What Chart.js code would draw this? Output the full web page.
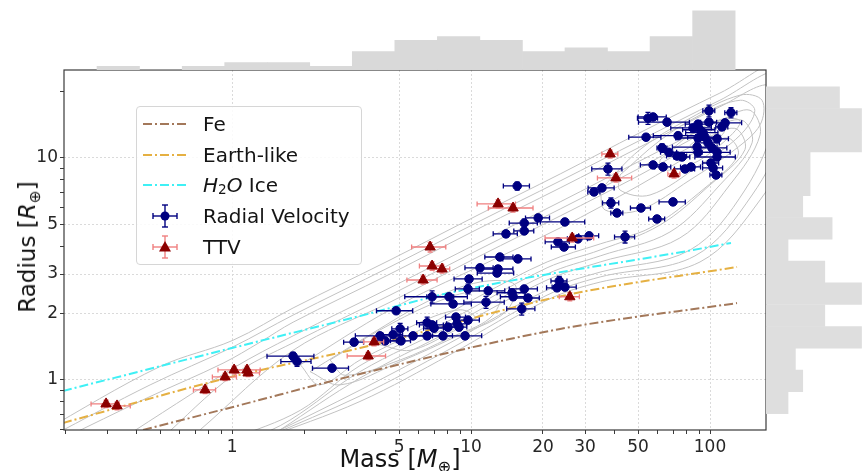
<!DOCTYPE html>
<html>
<head>
<meta charset="utf-8">
<script src="https://cdn.jsdelivr.net/npm/chart.js@4.4.1/dist/chart.umd.min.js"></script>
<style>
  body { margin: 0; background: #fff; font-family: "DejaVu Sans", sans-serif; }
  #wrap { position: relative; width: 863px; height: 471px; overflow: hidden; }
  canvas { position: absolute; }
  #main { left: 0; top: 0; }
  #topHist { left: 64px; top: 0; }
  #rightHist { left: 766px; top: 70px; }
  .legend { position: absolute; left: 136px; top: 106px; width: 226px; height: 159px;
            border: 1px solid #d6d6d6; border-radius: 4px; background: rgba(255,255,255,0.85);
            box-sizing: border-box; }
  .row { position: absolute; left: 0; height: 30px; display: flex; align-items: center;
         font-size: 20px; color: #141414; white-space: nowrap; }
  .row svg { margin-left: 6px; margin-right: 14px; }
  .title { position: absolute; white-space: nowrap; font-size: 23px; color: #141414; }
  sub { font-size: 0.68em; position: relative; top: 0.3em; line-height: 0; vertical-align: baseline; }
</style>
</head>
<body>
<div id="wrap">
  <canvas id="main" width="863" height="471"></canvas>
  <canvas id="topHist" width="702" height="70"></canvas>
  <canvas id="rightHist" width="97" height="360"></canvas>

  <div class="legend">
    <div class="row" style="top:2px">
      <svg width="46" height="30"><line x1="0" y1="15" x2="46" y2="15" stroke="#a3785a" stroke-width="2" stroke-dasharray="9 3 2 3"/></svg>Fe
    </div>
    <div class="row" style="top:33px">
      <svg width="46" height="30"><line x1="0" y1="15" x2="46" y2="15" stroke="#e5b042" stroke-width="2" stroke-dasharray="9 3 2 3"/></svg>Earth-like
    </div>
    <div class="row" style="top:63px">
      <svg width="46" height="30"><line x1="0" y1="15" x2="46" y2="15" stroke="#3ff0f5" stroke-width="2" stroke-dasharray="9 3 2 3"/></svg><i>H</i><sub>2</sub><i>O</i>&nbsp;Ice
    </div>
    <div class="row" style="top:94px">
      <svg width="46" height="30">
        <g stroke="#000080" stroke-width="1.4">
          <line x1="10" y1="15" x2="34" y2="15"/><line x1="22" y1="4" x2="22" y2="26"/>
          <line x1="10" y1="12" x2="10" y2="18"/><line x1="34" y1="12" x2="34" y2="18"/>
          <line x1="19" y1="4" x2="25" y2="4"/><line x1="19" y1="26" x2="25" y2="26"/>
        </g>
        <circle cx="22" cy="15" r="4.5" fill="#000080"/>
      </svg>Radial Velocity
    </div>
    <div class="row" style="top:125px">
      <svg width="46" height="30">
        <g stroke="#f08080" stroke-width="1.4">
          <line x1="10" y1="15" x2="34" y2="15"/><line x1="22" y1="4" x2="22" y2="26"/>
          <line x1="10" y1="12" x2="10" y2="18"/><line x1="34" y1="12" x2="34" y2="18"/>
          <line x1="19" y1="4" x2="25" y2="4"/><line x1="19" y1="26" x2="25" y2="26"/>
        </g>
        <polygon points="22,9 28,19.5 16,19.5" fill="#8b0000"/>
      </svg>TTV
    </div>
  </div>

  <div class="title" style="left:400px; top:459px; font-size:24px; transform: translate(-50%,-50%);">Mass [<i>M</i><sub>⊕</sub>]</div>
  <div class="title" style="left:27px; top:247px; transform: translate(-50%,-50%) rotate(-90deg);">Radius [<i>R</i><sub>⊕</sub>]</div>
</div>

<script>
// ---- axes ----
const xMin = 0.198, xMax = 171.5;
const yMin = 0.595, yMax = 24.9;
const xTickValues = [0.2, 0.3, 0.4, 0.5, 0.6, 0.7, 0.8, 0.9, 1, 2, 3, 4, 5, 6, 7, 8, 9, 10, 20, 30, 40, 50, 60, 70, 80, 90, 100];
const xTickLabels = [1, 5, 10, 20, 30, 50, 100];
const yTickValues = [0.6, 0.7, 0.8, 0.9, 1, 2, 3, 4, 5, 6, 7, 8, 9, 10, 20];
const yTickLabels = [1, 2, 3, 5, 10];

// ---- radial velocity planets ----
const rvMass = [1.80, 1.87, 2.62, 3.24, 4.16, 4.37, 4.72, 5.05, 5.09, 4.86, 5.72, 6.55, 6.55, 6.87, 7.00, 7.63, 8.01, 8.74, 8.91, 8.65,
  9.44, 9.71, 6.87, 8.09, 8.41, 9.71, 9.81, 10.9, 12.85, 12.97, 13.2, 15.7, 11.8, 11.55, 14.85, 15.0, 16.7, 17.3, 16.3, 23.4,
  22.9, 24.7, 14.0, 16.7, 16.7, 19.1, 24.7, 31.2, 28.0, 23.1, 24.5, 44.1, 15.6, 37.4, 35.3, 32.7, 38.5, 40.8, 51.4, 60.0,
  70.0, 55.0, 57.8, 66.1, 54.0, 73.5, 63.0, 67.3, 72.8, 76.4, 57.8, 63.6, 78.6, 83.3, 99.0, 122.4, 99.0, 89.1, 115.6, 112.2,
  84.9, 90.8, 93.5, 95.3, 89.1, 107, 98.1, 101.9, 88.3, 89.1, 107, 107, 100.9, 103, 106];
const rvRadius = [1.28, 1.21, 1.13, 1.48, 1.58, 1.50, 1.60, 1.70, 1.50, 2.05, 1.58, 1.58, 1.81, 1.77, 1.71, 1.58, 1.73, 1.79, 1.73, 1.92,
  1.58, 1.86, 2.37, 2.37, 2.20, 2.57, 2.85, 3.20, 3.03, 3.16, 3.58, 3.51, 2.52, 2.24, 2.47, 2.37, 2.57, 2.34, 2.09, 2.79,
  2.60, 2.62, 4.55, 4.69, 5.09, 5.37, 5.15, 4.46, 4.32, 4.19, 3.97, 4.41, 7.48, 8.92, 7.33, 7.03, 6.27, 5.65, 5.95, 5.31,
  6.34, 15.1, 15.3, 14.5, 12.4, 12.6, 11.1, 10.6, 10.2, 10.1, 9.30, 9.11, 8.92, 9.11, 16.3, 16.0, 14.5, 14.2, 14.4, 13.8,
  13.65, 13.4, 13.0, 12.4, 12.3, 12.2, 11.7, 11.1, 11.2, 10.6, 10.6, 10.1, 9.49, 9.02, 8.38];
const rvMassErr = [0.40, 0.27, 0.45, 0.31, 0.88, 0.50, 0.45, 0.39, 0.49, 0.84, 0.77, 0.88, 0.63, 0.79, 0.67, 0.73, 0.77, 0.84, 0.69, 0.83,
  1.64, 1.12, 1.59, 1.56, 1.62, 1.12, 1.32, 1.47, 2.23, 2.0, 1.78, 2.12, 2.04, 2.22, 2.0, 1.73, 2.25, 2.0, 2.2, 1.8,
  2.2, 2.86, 1.62, 1.6, 2.25, 2.2, 5.2, 3.0, 2.7, 2.67, 2.83, 4.25, 1.95, 5.4, 4.4, 1.9, 3.0, 2.36, 4.95, 4.6,
  8.8, 5.3, 7.8, 15.9, 8.3, 15.6, 3.0, 5.2, 7.0, 5.9, 6.7, 4.9, 7.6, 8.0, 5.7, 7.1, 7.6, 10.3, 20, 6.5,
  16.4, 14, 14.4, 14.7, 17.2, 12.4, 11.3, 15.7, 18.7, 20.6, 14.4, 20.6, 7.8, 9.9, 6.1];
const rvRadiusErr = [0.05, 0.06, 0.035, 0.05, 0.05, 0.05, 0.05, 0.10, 0.05, 0.06, 0.05, 0.05, 0.11, 0.06, 0.06, 0.05, 0.06, 0.06, 0.06, 0.06,
  0.05, 0.06, 0.15, 0.08, 0.07, 0.13, 0.09, 0.10, 0.10, 0.10, 0.11, 0.11, 0.08, 0.14, 0.08, 0.08, 0.08, 0.07, 0.13, 0.14,
  0.08, 0.08, 0.14, 0.15, 0.21, 0.17, 0.16, 0.14, 0.13, 0.13, 0.12, 0.27, 0.31, 0.55, 0.23, 0.22, 0.33, 0.18, 0.19, 0.17,
  0.20, 0.94, 0.48, 0.45, 0.39, 0.39, 0.46, 0.33, 0.32, 0.31, 0.29, 0.28, 0.28, 0.28, 1.0, 0.83, 0.45, 0.44, 0.45, 0.43,
  0.42, 0.42, 0.40, 0.39, 0.38, 0.38, 0.36, 0.34, 0.35, 0.33, 0.33, 0.31, 0.30, 0.28, 0.26];

// ---- TTV planets ----
const ttvMass = [0.297, 0.330, 0.771, 0.935, 1.02, 1.155, 1.167, 3.71, 3.93, 6.30, 6.74, 6.87, 7.56, 12.97, 14.99, 26.5, 25.9, 38.2, 40.4, 70.7];
const ttvRadius = [0.780, 0.764, 0.902, 1.032, 1.109, 1.109, 1.075, 1.282, 1.483, 2.82, 3.97, 3.26, 3.16, 6.21, 5.95, 4.36, 2.37, 10.42, 8.13, 8.47];
const ttvMassErr = [0.040, 0.045, 0.082, 0.108, 0.147, 0.156, 0.135, 0.678, 0.378, 0.91, 1.10, 0.79, 0.58, 2.37, 3.18, 6.1, 2.5, 2.94, 6.6, 4.1];
const ttvRadiusErr = [0.03, 0.03, 0.035, 0.04, 0.045, 0.045, 0.04, 0.05, 0.06, 0.12, 0.2, 0.14, 0.13, 0.26, 0.25, 0.18, 0.1, 0.43, 0.34, 0.35];

// ---- composition curves ----
const feMass = [0.424, 1.01, 3.43, 23.6, 129.7];
const feRadius = [0.595, 0.756, 1.064, 1.697, 2.22];
const earthMass = [0.196, 0.953, 3.43, 25.2, 129.7];
const earthRadius = [0.640, 1.021, 1.393, 2.415, 3.23];
const iceMass = [0.196, 1.0, 3.43, 8.17, 84.9, 122.4];
const iceRadius = [0.892, 1.393, 1.941, 2.47, 3.85, 4.14];

// ---- density contours ----
const contour1Mass = [0.157, 0.50, 1.01, 1.80, 4.58, 10.9, 23.6, 50.9, 110, 216, 216, 162, 90.8, 34.7, 20.8, 8.17, 3.43, 1.31];
const contour1Radius = [0.577, 1.15, 1.51, 2.11, 3.47, 5.59, 8.47, 13.0, 19.6, 27.6, 12.0, 6.47, 3.40, 2.76, 2.29, 1.30, 0.80, 0.537];
const contour2Mass = [0.173, 0.454, 1.01, 1.80, 4.58, 10.9, 23.6, 50.9, 110, 196, 202, 150, 86.5, 34.7, 20.8, 8.17, 3.43, 1.37];
const contour2Radius = [0.554, 0.95, 1.41, 1.96, 3.23, 5.20, 7.88, 12.0, 18.2, 24.4, 13.4, 6.81, 3.62, 2.91, 2.41, 1.38, 0.847, 0.548];
const contour3Mass = [0.191, 0.441, 0.917, 1.31, 1.80, 4.58, 10.9, 23.6, 50.9, 110, 178, 187, 140, 82.5, 34.7, 20.8, 8.17, 3.43, 1.44];
const contour3Radius = [0.537, 0.83, 1.19, 1.48, 1.82, 3.00, 4.84, 7.33, 11.2, 17.0, 21.3, 14.8, 7.17, 3.85, 3.06, 2.54, 1.47, 0.90, 0.565];
const contour4Mass = [0.34, 1.01, 1.80, 4.58, 10.9, 23.6, 50.9, 110, 147, 162, 121, 74.8, 34.7, 20.8, 8.17, 3.43, 1.59];
const contour4Radius = [0.537, 1.13, 1.58, 2.60, 4.18, 6.34, 9.7, 14.7, 16.4, 12.7, 7.56, 4.36, 3.40, 2.82, 1.66, 1.02, 0.596];
const contour5Mass = [0.50, 1.01, 1.80, 4.58, 10.9, 23.6, 50.9, 100, 136, 150, 110, 68.0, 34.7, 20.8, 8.17, 3.43, 1.75, 1.19];
const contour5Radius = [0.537, 1.05, 1.47, 2.41, 3.89, 5.89, 9.02, 13.4, 14.8, 11.7, 7.56, 4.64, 3.62, 3.00, 1.75, 1.09, 0.66, 0.537];
const contour6Mass = [0.735, 1.80, 4.58, 10.9, 23.6, 50.9, 90.8, 127, 140, 100, 61.8, 34.7, 20.8, 8.17, 3.43, 1.93, 0.981];
const contour6Radius = [0.596, 1.36, 2.24, 3.62, 5.48, 8.38, 11.8, 13.6, 10.9, 7.56, 4.99, 3.85, 3.20, 1.86, 1.16, 0.73, 0.537];
const contour7Mass = [1.93, 4.58, 10.9, 23.6, 50.9, 90.8, 119, 131, 95.3, 56.1, 34.7, 20.8, 10.9, 6.12, 3.43, 2.33, 1.93];
const contour7Radius = [1.17, 2.07, 3.26, 4.84, 7.56, 10.9, 12.3, 10.3, 7.33, 4.84, 4.10, 3.40, 2.39, 1.68, 1.23, 0.95, 1.17];
const contour8Mass = [2.12, 3.78, 6.74, 10.9, 15.3, 13.9, 9.0, 5.05, 2.83, 2.12];
const contour8Radius = [1.09, 1.60, 2.29, 2.76, 2.68, 2.02, 1.60, 1.21, 0.95, 1.09];
const contour9Mass = [2.57, 4.16, 6.74, 9.9, 13.2, 12.0, 8.17, 5.05, 2.97, 2.57];
const contour9Radius = [1.23, 1.68, 2.18, 2.49, 2.41, 1.90, 1.55, 1.23, 1.05, 1.23];
const contour10Mass = [4.16, 6.12, 9.0, 10.4, 8.17, 5.56, 4.16];
const contour10Radius = [1.44, 1.82, 2.07, 1.90, 1.63, 1.36, 1.44];
const contour11Mass = [34.7, 50.9, 82.5, 134, 165, 162, 127, 82.5, 50.9, 36.4, 34.7];
const contour11Radius = [7.17, 10.9, 15.1, 19.2, 18.2, 14.1, 10.9, 7.96, 5.83, 5.83, 7.17];
const contour12Mass = [42.0, 61.8, 90.8, 134, 154, 134, 90.8, 56.1, 42.0, 42.0];
const contour12Radius = [8.38, 12.0, 15.6, 18.2, 16.4, 12.7, 9.3, 6.81, 7.17, 8.38];
const contour13Mass = [61.8, 82.5, 116, 134, 110, 82.5, 61.8, 61.8];
const contour13Radius = [9.8, 12.7, 15.1, 14.5, 11.4, 9.3, 8.83, 9.8];
const contour14Mass = [82.5, 100, 116, 105, 86.5, 82.5];
const contour14Radius = [11.4, 13.4, 13.6, 11.8, 10.6, 11.4];

// ---- marginal histograms ----
const massBinCenters = [0.334, 0.504, 0.759, 1.143, 1.722, 2.594, 3.908, 5.888, 8.872, 13.37, 20.14, 30.34, 45.71, 68.87, 103.8];
const massBinCounts = [1, 0, 1, 2, 2, 1, 5, 8, 9, 8, 5, 6, 5, 9, 16];
const radiusBinCenters = [18.71, 14.93, 11.91, 9.51, 7.57, 6.04, 4.82, 3.85, 3.07, 2.45, 1.95, 1.556, 1.242, 0.991, 0.789];
const radiusBinCounts = [10, 13, 13, 6, 6, 5, 9, 3, 8, 13, 8, 13, 4, 5, 3];

const zip = (xs, ys) => xs.map((x, i) => ({ x: x, y: ys[i] }));

// error bars are drawn right before their own markers
const errorBars = {
  id: "errorBars",
  beforeDatasetDraw(chart, args) {
    const ds = chart.data.datasets[args.index];
    if (!ds.errX) return;
    const { ctx, chartArea: a, scales: { x, y } } = chart;
    ctx.save();
    ctx.beginPath();
    ctx.rect(a.left, a.top, a.width, a.height);
    ctx.clip();
    ctx.strokeStyle = ds.errColor;
    ctx.lineWidth = 1.3;
    const cap = 2.5;
    ds.data.forEach((p, i) => {
      const cx = x.getPixelForValue(p.x), cy = y.getPixelForValue(p.y);
      const x0 = x.getPixelForValue(p.x - ds.errX[i]), x1 = x.getPixelForValue(p.x + ds.errX[i]);
      const y0 = y.getPixelForValue(p.y - ds.errY[i]), y1 = y.getPixelForValue(p.y + ds.errY[i]);
      ctx.beginPath();
      ctx.moveTo(x0, cy); ctx.lineTo(x1, cy);
      ctx.moveTo(cx, y0); ctx.lineTo(cx, y1);
      ctx.moveTo(x0, cy - cap); ctx.lineTo(x0, cy + cap);
      ctx.moveTo(x1, cy - cap); ctx.lineTo(x1, cy + cap);
      ctx.moveTo(cx - cap, y0); ctx.lineTo(cx + cap, y0);
      ctx.moveTo(cx - cap, y1); ctx.lineTo(cx + cap, y1);
      ctx.stroke();
    });
    ctx.restore();
  }
};

const frame = {
  id: "frame",
  afterDatasetsDraw(chart) {
    const { ctx, chartArea: a } = chart;
    ctx.save();
    ctx.strokeStyle = "#3a3a3a";
    ctx.lineWidth = 1.2;
    ctx.strokeRect(a.left, a.top, a.width, a.height);
    ctx.restore();
  }
};

const contourStyle = { type: "scatter", showLine: true, pointRadius: 0, borderColor: "#c2c2c2", borderWidth: 1, tension: 0.35, order: 10 };
const contours = [
  [contour1Mass, contour1Radius], [contour2Mass, contour2Radius], [contour3Mass, contour3Radius],
  [contour4Mass, contour4Radius], [contour5Mass, contour5Radius], [contour6Mass, contour6Radius],
  [contour7Mass, contour7Radius], [contour8Mass, contour8Radius], [contour9Mass, contour9Radius],
  [contour10Mass, contour10Radius], [contour11Mass, contour11Radius], [contour12Mass, contour12Radius],
  [contour13Mass, contour13Radius], [contour14Mass, contour14Radius]
].map(c => Object.assign({ data: zip(c[0], c[1]) }, contourStyle));

const curve = (m, r, color) => ({
  type: "scatter", showLine: true, data: zip(m, r), borderColor: color, borderWidth: 2,
  borderDash: [9, 3, 2, 3], pointRadius: 0, cubicInterpolationMode: "monotone", order: 5
});

const tickFont = { family: "DejaVu Sans", size: 17 };

new Chart(document.getElementById("main"), {
  type: "scatter",
  data: {
    datasets: [
      ...contours,
      curve(feMass, feRadius, "#a3785a"),
      curve(earthMass, earthRadius, "#e5b042"),
      curve(iceMass, iceRadius, "#3ff0f5"),
      {
        label: "Radial Velocity", data: zip(rvMass, rvRadius), errX: rvMassErr, errY: rvRadiusErr, errColor: "#000080",
        backgroundColor: "#000080", borderColor: "#000080", pointRadius: 4.3, pointStyle: "circle", order: 1
      },
      {
        label: "TTV", data: zip(ttvMass, ttvRadius), errX: ttvMassErr, errY: ttvRadiusErr, errColor: "#f08080",
        backgroundColor: "#8b0000", borderColor: "#8b0000", pointRadius: 6, pointStyle: "triangle", order: 0
      }
    ]
  },
  options: {
    responsive: false,
    animation: false,
    devicePixelRatio: 1,
    layout: { padding: { top: 70, right: 97, left: 0, bottom: 0 } },
    plugins: { legend: { display: false }, tooltip: { enabled: false } },
    scales: {
      x: {
        type: "logarithmic", min: xMin, max: xMax,
        afterBuildTicks: s => { s.ticks = xTickValues.map(v => ({ value: v })); },
        afterFit: s => { s.height = 41; },
        ticks: { autoSkip: false, maxRotation: 0, padding: 3, font: tickFont, color: "#262626",
                 callback: v => xTickLabels.includes(v) ? String(v) : "" },
        grid: { color: c => (c.tick && xTickLabels.includes(c.tick.value)) ? "#dadada" : "rgba(0,0,0,0)",
                lineWidth: 1, tickColor: "#3a3a3a", tickLength: 4 },
        border: { display: false, dash: [2, 2] }
      },
      y: {
        type: "logarithmic", min: yMin, max: yMax,
        afterBuildTicks: s => { s.ticks = yTickValues.map(v => ({ value: v })); },
        afterFit: s => { s.width = 64; },
        ticks: { autoSkip: false, padding: 2, font: tickFont, color: "#262626",
                 callback: v => yTickLabels.includes(v) ? String(v) : "" },
        grid: { color: c => (c.tick && yTickLabels.includes(c.tick.value)) ? "#dadada" : "rgba(0,0,0,0)",
                lineWidth: 1, tickColor: "#3a3a3a", tickLength: 4 },
        border: { display: false, dash: [2, 2] }
      }
    }
  },
  plugins: [errorBars, frame]
});

// top marginal histogram (mass)
new Chart(document.getElementById("topHist"), {
  type: "bar",
  data: { datasets: [{ data: zip(massBinCenters, massBinCounts), backgroundColor: "#d9d9d9", borderWidth: 0,
                       barPercentage: 1, categoryPercentage: 1 }] },
  options: {
    responsive: false, animation: false, devicePixelRatio: 1,
    plugins: { legend: { display: false }, tooltip: { enabled: false } },
    scales: {
      x: { type: "logarithmic", min: xMin, max: xMax, display: false,
           afterBuildTicks: s => { s.ticks = [{ value: 1 }]; } },
      y: { min: 0, max: 18.9, display: false }
    }
  }
});

// right marginal histogram (radius)
new Chart(document.getElementById("rightHist"), {
  type: "bar",
  data: { datasets: [{ data: radiusBinCenters.map((c, i) => ({ x: radiusBinCounts[i], y: c })), backgroundColor: "#dedede",
                       borderWidth: 0, barPercentage: 1, categoryPercentage: 1 }] },
  options: {
    indexAxis: "y",
    responsive: false, animation: false, devicePixelRatio: 1,
    plugins: { legend: { display: false }, tooltip: { enabled: false } },
    scales: {
      y: { type: "logarithmic", min: yMin, max: yMax, display: false,
           afterBuildTicks: s => { s.ticks = [{ value: 1 }]; } },
      x: { min: 0, max: 13.2, display: false }
    }
  }
});
</script>
</body>
</html>
